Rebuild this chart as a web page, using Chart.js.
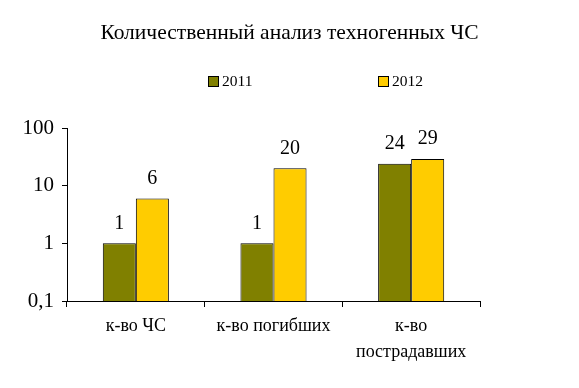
<!DOCTYPE html>
<html><head><meta charset="utf-8">
<script src="https://cdn.jsdelivr.net/npm/chart.js@4"></script>
<style>html,body{margin:0;padding:0;background:#fff}#wrap{width:579px;height:388px}</style>
</head><body><div id="wrap"><canvas id="c" width="579" height="388"></canvas></div>
<script>
const titleText = 'Количественный анализ техногенных ЧС';
const categories = [['к-во ЧС'], ['к-во погибших'], ['к-во', 'пострадавших']];
const seriesNames = ['2011', '2012'];
const values2011 = [1, 1, 24];
const values2012 = [6, 20, 29];
const yTicks = [0.1, 1, 10, 100];
const colors = ['#808000', '#FFCC00'];
const FONT = '"Liberation Serif", "Times New Roman", serif';

const overlay = {
  id: 'overlay',
  afterDraw(chart) {
    const ctx = chart.ctx;
    ctx.save();
    // title
    ctx.fillStyle = '#000';
    ctx.font = '21.5px ' + FONT;
    ctx.textAlign = 'center';
    ctx.textBaseline = 'middle';
    ctx.fillText(titleText, 289.5, 33);
    // legend
    const lx = [208, 378];
    ctx.font = '15.5px ' + FONT;
    ctx.textAlign = 'left';
    chart.data.datasets.forEach((ds, i) => {
      ctx.fillStyle = ds.backgroundColor;
      ctx.fillRect(lx[i] + 0.5, 76.5, 10, 10);
      ctx.strokeStyle = '#000';
      ctx.lineWidth = 1;
      ctx.strokeRect(lx[i] + 0.5, 76.5, 10, 10);
      ctx.fillStyle = '#000';
      ctx.fillText(ds.label, lx[i] + 14, 82);
    });
    // data labels
    ctx.font = '20px ' + FONT;
    ctx.textAlign = 'center';
    chart.data.datasets.forEach((ds, i) => {
      chart.getDatasetMeta(i).data.forEach((bar, j) => {
        ctx.fillText(String(ds.data[j]), bar.x, bar.y - 20);
      });
    });
    ctx.restore();
  }
};

new Chart(document.getElementById('c'), {
  type: 'bar',
  data: {
    labels: categories,
    datasets: [
      { label: seriesNames[0], data: values2011, backgroundColor: colors[0], borderColor: '#000', borderWidth: 1, categoryPercentage: 0.48, barPercentage: 1 },
      { label: seriesNames[1], data: values2012, backgroundColor: colors[1], borderColor: '#000', borderWidth: 1, categoryPercentage: 0.48, barPercentage: 1 }
    ]
  },
  options: {
    responsive: false,
    animation: false,
    devicePixelRatio: 1,
    layout: { padding: { top: 128, right: 99, left: 0, bottom: 0 } },
    plugins: { legend: { display: false }, title: { display: false }, tooltip: { enabled: false } },
    scales: {
      x: {
        grid: { display: true, drawOnChartArea: false, offset: true, color: '#000', tickLength: 6, tickColor: '#000' },
        border: { display: true, color: '#000', width: 1 },
        ticks: { color: '#000', font: { family: FONT, size: 18, lineHeight: 1.4 }, padding: 7, maxRotation: 0, autoSkip: false },
        afterFit(s) { s.height = 87; }
      },
      y: {
        type: 'logarithmic',
        min: 0.1, max: 100,
        afterBuildTicks(s) { s.ticks = yTicks.map(v => ({ value: v })); },
        grid: { display: true, drawOnChartArea: false, color: '#000', tickLength: 5, tickColor: '#000' },
        border: { display: true, color: '#000', width: 1 },
        ticks: { color: '#000', font: { family: FONT, size: 21 }, padding: 8,
          callback: v => String(v).replace('.', ',') },
        afterFit(s) { s.width = 67; }
      }
    }
  },
  plugins: [overlay]
});
</script></body></html>
